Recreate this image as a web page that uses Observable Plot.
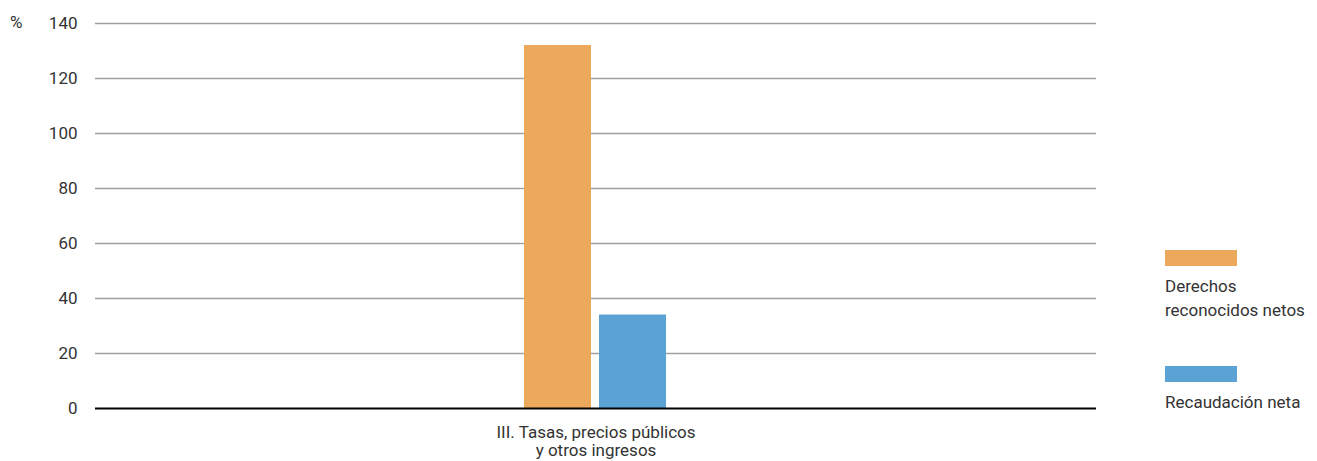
<!DOCTYPE html>
<html><head><meta charset="utf-8">
<script src="https://cdn.jsdelivr.net/npm/d3@7"></script>
<script src="https://cdn.jsdelivr.net/npm/@observablehq/plot@0.6"></script>
<style>
body{margin:0;background:#fff;font-family:Roboto,sans-serif;color:#333;}
#wrap{position:relative;width:1317px;height:461px;}
.pct{position:absolute;left:10px;top:12px;font-size:17px;}
.leg{position:absolute;left:1165px;font-size:17px;line-height:24px;}
.sw{width:72px;height:16px;margin-bottom:8px;}
</style></head>
<body><div id="wrap"></div>
<script>
const categories = ["III. Tasas, precios públicos\ny otros ingresos"];
const series = ["Derechos reconocidos netos", "Recaudación neta"];
const derechos = [132];
const recaudacion = [34];
const yTicks = [0, 20, 40, 60, 80, 100, 120, 140];
const colors = ["#EDA95B", "#5BA3D4"];

const data = [];
categories.forEach((c, i) => {
  data.push({cat: c, serie: series[0], value: derechos[i]});
  data.push({cat: c, serie: series[1], value: recaudacion[i]});
});

const chart = Plot.plot({
  width: 1317, height: 461,
  marginLeft: 95, marginRight: 221, marginTop: 23, marginBottom: 53,
  style: {fontFamily: "Roboto, sans-serif", fontSize: "17px", color: "#333", background: "#fff"},
  fx: {domain: categories, padding: 0},
  x: {domain: series, paddingInner: 0.105, paddingOuter: 5.64, axis: null},
  y: {domain: [0, 140], label: null},
  color: {domain: series, range: colors},
  marks: [
    Plot.gridY(yTicks.filter(d => d > 0), {stroke: "#a0a0a0", strokeOpacity: 1, strokeWidth: 1.5}),
    Plot.axisY(yTicks, {tickSize: 0, tickPadding: 18, label: null, fontSize: 17}),
    Plot.axisFx({anchor: "bottom", tickSize: 0, tickPadding: 17, label: null, lineHeight: 1.05, fontSize: 17}),
    Plot.barY(data, {fx: "cat", x: "serie", y: "value", fill: "serie"}),
    Plot.ruleY([0], {stroke: "#000", strokeWidth: 2})
  ]
});
const wrap = document.getElementById("wrap");
wrap.appendChild(chart);
const pct = document.createElement("div");
pct.className = "pct"; pct.textContent = "%";
wrap.appendChild(pct);
const legTops = [250, 366];
const legLabels = ["Derechos<br>reconocidos netos", "Recaudación neta"];
series.forEach((s, i) => {
  const d = document.createElement("div");
  d.className = "leg"; d.style.top = legTops[i] + "px";
  d.innerHTML = `<div class="sw" style="background:${colors[i]}"></div><div>${legLabels[i]}</div>`;
  wrap.appendChild(d);
});
</script></body></html>
